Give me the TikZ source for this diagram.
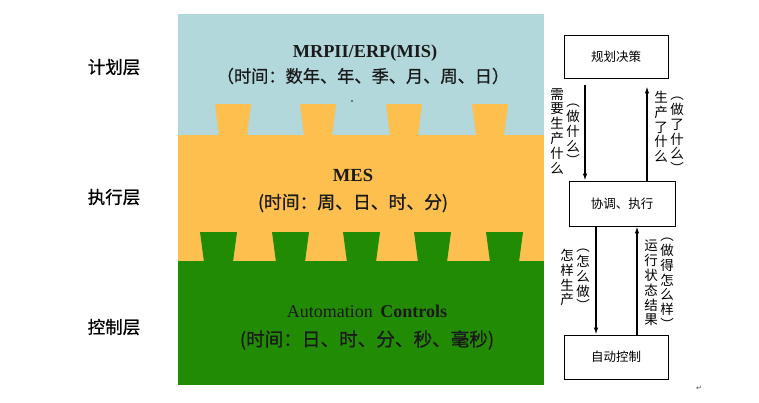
\documentclass[tikz,border=0pt]{standalone}
\usepackage{fontspec}
\setmainfont{Liberation Serif}
\newfontfamily\cjk{Noto Sans CJK SC}
\newfontfamily\cjkb[FakeBold=0.8]{Noto Sans CJK SC}
\newfontfamily\djv{DejaVu Sans}
\usetikzlibrary{arrows.meta}
\definecolor{skyc}{HTML}{B2D8DC}
\definecolor{yelc}{HTML}{FDC04E}
\definecolor{grnc}{HTML}{228B04}
\definecolor{txtc}{HTML}{1A1A1A}
\begin{document}
\begin{tikzpicture}[x=1pt,y=-1pt,
  boxn/.style={draw=black,line width=0.8pt,fill=white,inner sep=0pt,font=\cjk\fontsize{12.5}{14}\selectfont},
  arr/.style={line width=1.3pt,-{Latex[length=7pt,width=4.5pt]}},
  vlab/.style={font=\cjk\fontsize{13.5}{14.8}\selectfont,align=center,inner sep=0pt,anchor=north},
  side/.style={font=\cjkb\fontsize{17.5}{20}\selectfont,inner sep=0pt},
  big/.style={inner sep=0pt,text=txtc}]
\useasboundingbox (0,0) rectangle (759,402);
\fill[white] (0,0) rectangle (759,402);
% layers
\fill[skyc] (178,14) rectangle (544,135);
\fill[yelc] (178,135) rectangle (544,261);
\foreach \a in {215,300,386,472}
  \fill[yelc] (\a,104) -- (\a+36,104) -- (\a+32,136) -- (\a+4,136) -- cycle;
\fill[grnc] (178,261) rectangle (544,385);
\foreach \a in {200,272,343,414,486}
  \fill[grnc] (\a,232) -- (\a+37,232) -- (\a+33,262) -- (\a+4,262) -- cycle;
\fill[txtc] (352,101) circle (0.8);
% layer texts
\node[big,font=\bfseries\fontsize{18.3}{20}\selectfont] (t1) at (365,53) {MRPII/ERP(MIS)};
\node[big,font=\cjkb\fontsize{17.2}{20}\selectfont] (t1b) at (363,76) {（时间：数年、年、季、月、周、日）};
\node[big,font=\bfseries\fontsize{18.5}{20}\selectfont] (t2) at (353,175) {MES};
\node[big,font=\cjkb\fontsize{17.8}{20}\selectfont] (t2b) at (353,203) {(时间：周、日、时、分)};
\node[big,font=\fontsize{18}{20}\selectfont] (t3) at (367,311) {Automation\, \textbf{Controls}};
\node[big,font=\cjkb\fontsize{18.6}{20}\selectfont] (t3b) at (367,340) {(时间：日、时、分、秒、毫秒)};
% side labels
\node[side] (s1) at (114,67) {计划层};
\node[side] (s2) at (114,197) {执行层};
\node[side] (s3) at (114,327) {控制层};
% right boxes
\node[boxn,minimum width=104pt,minimum height=43pt] (plan) at (616,56.5) {规划决策};
\node[boxn,minimum width=106pt,minimum height=45pt] (exec) at (622,203.5) {协调、执行};
\node[boxn,minimum width=104pt,minimum height=44pt] (auto) at (616,357) {自动控制};
% arrows
\draw[arr] ([shift={(-31,7)}]plan.south) -- ([xshift=-31pt]plan.south |- exec.north);
\draw[arr] ([xshift=31pt]plan.south |- exec.north) -- ([shift={(31,8)}]plan.south);
\draw[arr] ([xshift=-26pt]exec.south) -- ([xshift=-26pt]exec.south |- auto.north);
\draw[arr] ([xshift=15pt]exec.south |- auto.north) -- ([xshift=15pt]exec.south);
% vertical labels
\node[vlab] (l1) at (557,88) {需\\要\\生\\产\\什\\么};
\node[vlab] (l2) at (573,104) {︵\\做\\什\\么\\︶};
\node[vlab] (l3) at (661,91) {生\\产\\了\\什\\么};
\node[vlab] (l4) at (677,97) {︵\\做\\了\\什\\么\\︶};
\node[vlab] (l5) at (567,249) {怎\\样\\生\\产};
\node[vlab] (l6) at (583,249) {︵\\怎\\么\\做\\︶};
\node[vlab] (l7) at (651,240) {运\\行\\状\\态\\结\\果};
\node[vlab] (l8) at (667,238) {︵\\做\\得\\怎\\么\\样\\︶};
\node[inner sep=0pt,font=\djv\fontsize{7}{8}\selectfont,text=black!70] (ret) at (699,388) {↵};
\end{tikzpicture}
\end{document}
